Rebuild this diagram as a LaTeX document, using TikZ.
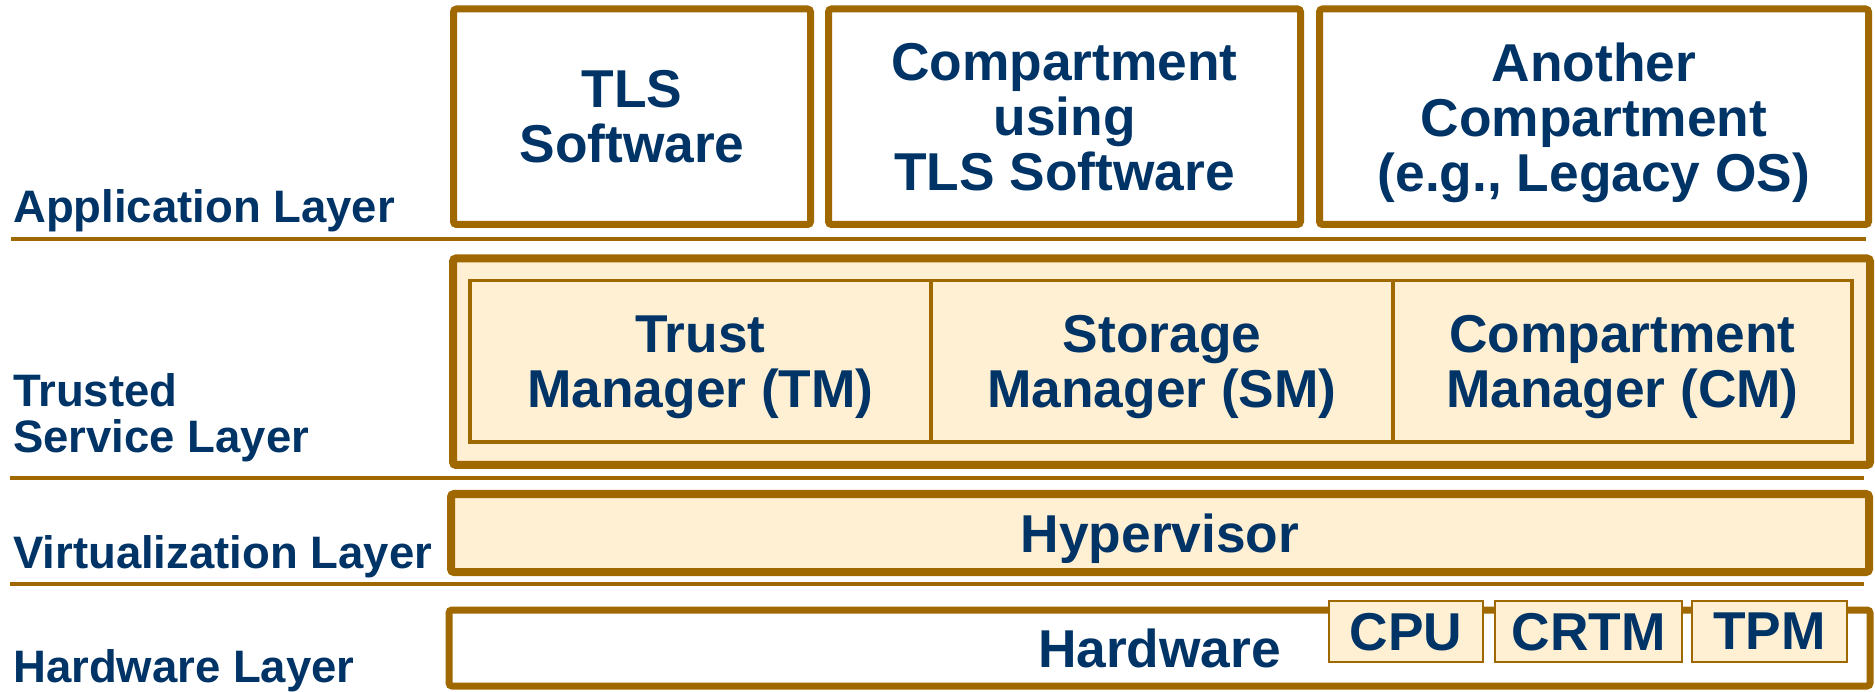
\documentclass[tikz,border=0pt]{standalone}
\usepackage{fontspec}
\setmainfont{Liberation Sans}
\definecolor{brn}{HTML}{A06800}
\definecolor{navy}{HTML}{003366}
\definecolor{cream}{HTML}{FFF0D3}
\newcommand\boxfont{\fontsize{53.3}{55}\selectfont\bfseries}
\newcommand\lblfont{\fontsize{45.5}{46}\selectfont\bfseries}
\tikzset{
  boxbase/.style={draw=brn, inner sep=0pt, align=center, font=\boxfont, text=navy, text depth=0pt},
  appbox/.style={boxbase, line width=7pt, fill=white, rounded corners=3pt},
  layerbox/.style={boxbase, line width=8pt, fill=cream, rounded corners=3pt},
  cellbox/.style={boxbase, line width=3.5pt, fill=cream},
  chipbox/.style={boxbase, line width=2pt, fill=cream},
  sepline/.style={draw=brn, line width=4pt},
  lbl/.style={inner sep=0pt, align=left, font=\lblfont, text=navy, anchor=base west}
}
\begin{document}
\begin{tikzpicture}[x=1pt, y=-1pt]
\useasboundingbox (0,0) rectangle (1875,692);

% application layer
\node[appbox, minimum width=357pt, minimum height=215.5pt] (tls) at (632,116.75) {TLS\\Software};
\node[appbox, minimum width=472pt, minimum height=215.5pt] (comp) at (1064.5,116.75) {Compartment\\using\\TLS Software};
\node[appbox, minimum width=549pt, minimum height=215.5pt] (other) at (1594,116.75) {Another\\Compartment\\(e.g., Legacy OS)};

% trusted service layer
\node[layerbox, minimum width=1417pt, minimum height=206.5pt] (tsl) at (1161.5,361.75) {};
\node[cellbox, minimum width=461pt, minimum height=161.5pt] (tm) at (700.5,361.25) {Trust\\Manager (TM)};
\node[cellbox, minimum width=462pt, minimum height=161.5pt] (sm) at (1162,361.25) {Storage\\Manager (SM)};
\node[cellbox, minimum width=459pt, minimum height=161.5pt] (cm) at (1622.5,361.25) {Compartment\\Manager (CM)};

% virtualization layer
\node[layerbox, minimum width=1418pt, minimum height=78pt] (hyp) at (1160,533) {Hypervisor};

% hardware layer
\node[layerbox, line width=7pt, fill=white, minimum width=1421pt, minimum height=76pt] (hw) at (1159.5,648) {Hardware};
\node[chipbox, minimum width=154pt, minimum height=61pt] (cpu) at (1406,631.5) {CPU};
\node[chipbox, minimum width=187pt, minimum height=61pt] (crtm) at (1588.5,631.5) {CRTM};
\node[chipbox, minimum width=155pt, minimum height=61pt] (tpm) at (1769.5,631.5) {TPM};

% layer separators
\coordinate (s1a) at (11,239);  \coordinate (s1b) at (1866,239);
\coordinate (s2a) at (10,478);  \coordinate (s2b) at (1864,478);
\coordinate (s3a) at (10,584);  \coordinate (s3b) at (1864,584);
\draw[sepline] (s1a) -- (s1b);
\draw[sepline] (s2a) -- (s2b);
\draw[sepline] (s3a) -- (s3b);

% layer names (base anchor sits on the last line)
\node[lbl] (lapp) at (13,223) {Application Layer};
\node[lbl] (ltsl) at (13,453) {Trusted\\Service Layer};
\node[lbl] (lvirt) at (13,568) {Virtualization Layer};
\node[lbl] (lhw) at (13,682) {Hardware Layer};
\end{tikzpicture}
\end{document}
